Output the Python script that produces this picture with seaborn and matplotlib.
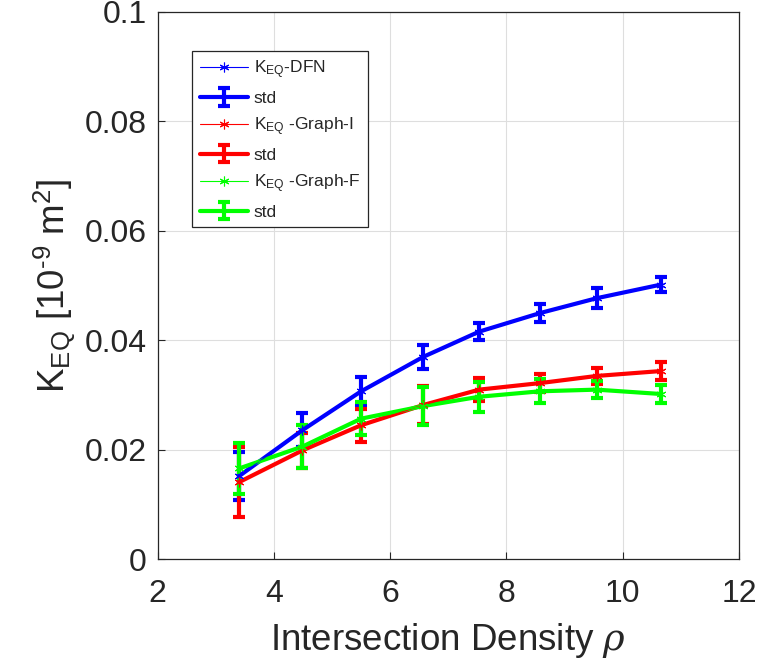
import numpy as np
import pandas as pd
import matplotlib
matplotlib.use("Agg")
import matplotlib.pyplot as plt
import seaborn as sns

# intersection density
rho = [3.40, 4.49, 5.50, 6.57, 7.53, 8.58, 9.55, 10.66]

# K_EQ mean and std, units 1e-9 m^2
k_dfn = [0.0152, 0.0236, 0.0307, 0.0370, 0.0416, 0.0450, 0.0477, 0.0502]
std_dfn = [0.0044, 0.0031, 0.0026, 0.0022, 0.0016, 0.0017, 0.0018, 0.0014]

k_graph_i = [0.0141, 0.0199, 0.0245, 0.0282, 0.0310, 0.0322, 0.0335, 0.0344]
std_graph_i = [0.0064, 0.0032, 0.0030, 0.0034, 0.0021, 0.0017, 0.0015, 0.0016]

k_graph_f = [0.0166, 0.0206, 0.0257, 0.0280, 0.0297, 0.0307, 0.0310, 0.0302]
std_graph_f = [0.0047, 0.0040, 0.0030, 0.0034, 0.0027, 0.0022, 0.0015, 0.0017]

labels = [r"K$_{\mathrm{EQ}}$-DFN", r"K$_{\mathrm{EQ}}$ -Graph-I", r"K$_{\mathrm{EQ}}$ -Graph-F"]
colors = ["#0000ff", "#ff0000", "#00ff00"]

sns.set_theme(style="whitegrid")
plt.rcParams["font.family"] = ["Liberation Sans", "DejaVu Sans"]
plt.rcParams["mathtext.fontset"] = "custom"
plt.rcParams["mathtext.rm"] = "Liberation Sans"
plt.rcParams["mathtext.it"] = "DejaVu Serif:italic"

fig = plt.figure(figsize=(7.6, 6.66), dpi=100)
ax = fig.add_axes([0.2075, 0.1602, 0.7649, 0.8218])

asterisk = (6, 2, 0)
series = [(k_dfn, std_dfn), (k_graph_i, std_graph_i), (k_graph_f, std_graph_f)]
for (k, s), lab, c in zip(series, labels, colors):
    df = pd.DataFrame({"rho": rho, "k": k})
    sns.lineplot(data=df, x="rho", y="k", color=c, marker=asterisk, markersize=7,
                 markeredgecolor=c, markeredgewidth=0.8, linewidth=0.8, label=lab,
                 ax=ax, zorder=3)
    ax.errorbar(rho, k, yerr=s, color=c, linewidth=3.0, elinewidth=3.0,
                capsize=4, capthick=3.0, label="std", zorder=2)

ax.set_xlim(2, 12)
ax.set_ylim(0, 0.1)
ax.set_xticks([2, 4, 6, 8, 10, 12])
ax.set_yticks([0, 0.02, 0.04, 0.06, 0.08, 0.1])
ax.set_yticklabels(["0", "0.02", "0.04", "0.06", "0.08", "0.1"])

ax.grid(True, color="#dedede", linewidth=0.8)
for side in ["left", "bottom", "top", "right"]:
    ax.spines[side].set_visible(True)
    ax.spines[side].set_color("#262626")
    ax.spines[side].set_linewidth(0.9)
ax.tick_params(axis="both", direction="in", length=5, width=0.8, labelsize=23,
               colors="#262626", left=True, bottom=True)
ax.tick_params(axis="x", pad=14)
ax.tick_params(axis="y", pad=8)

ax.set_xlabel(r"Intersection Density $\rho$", fontsize=26.5, color="#262626", labelpad=9)
ax.set_ylabel("K$_{\\mathrm{EQ}}$ [10$^{\\text{-9}}$ m$^{2}$]", fontsize=26.5,
              color="#262626", labelpad=5)

handles, labs = ax.get_legend_handles_labels()
order = [0, 3, 1, 4, 2, 5]
leg = ax.legend([handles[i] for i in order], [labs[i] for i in order],
                loc="upper left", bbox_to_anchor=(0.059, 0.929), fontsize=12.5,
                frameon=True, fancybox=False, framealpha=1, edgecolor="#262626",
                handlelength=2.8, borderpad=0.45, labelspacing=0.55, handletextpad=0.3,
                borderaxespad=0)
leg.get_frame().set_linewidth(0.9)

fig.savefig("out.png", dpi=100)
